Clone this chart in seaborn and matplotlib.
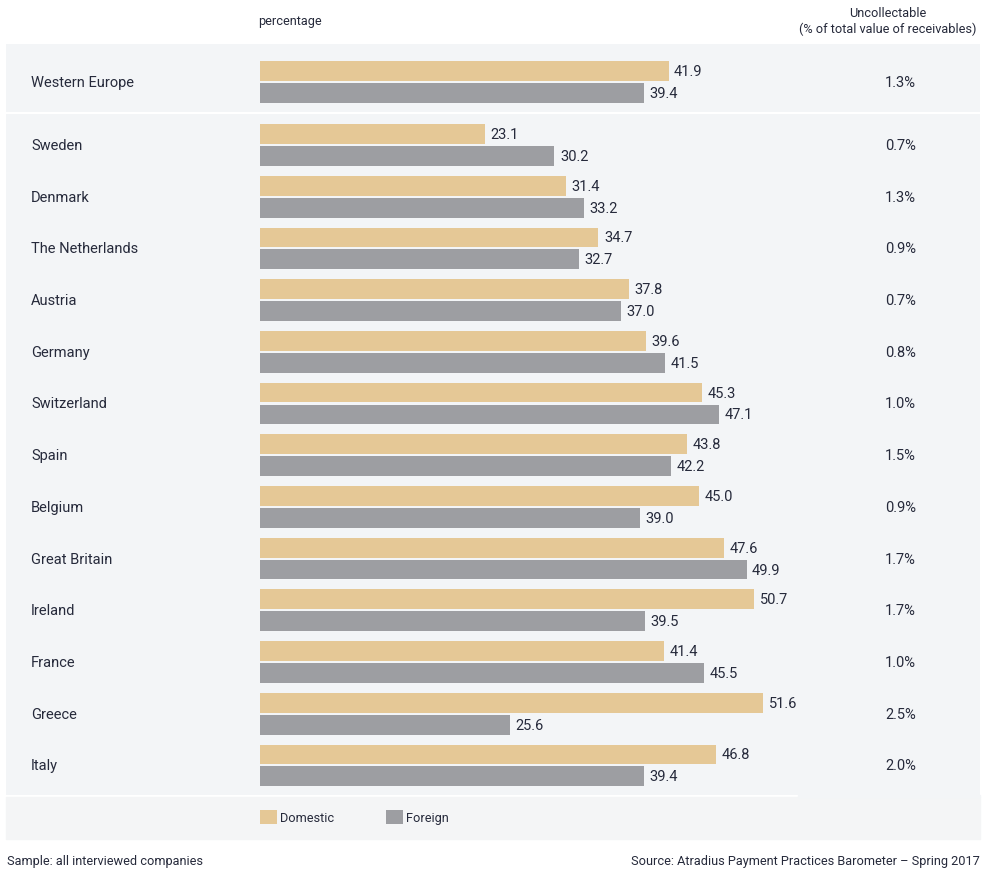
import matplotlib
matplotlib.use("Agg")
import matplotlib.pyplot as plt
import seaborn as sns
import pandas as pd
from matplotlib.patches import Rectangle

# ---------------- data ----------------
region = ["Western Europe"]
region_domestic = [41.9]
region_foreign = [39.4]
region_uncollectable = ["1.3%"]

countries = ["Sweden", "Denmark", "The Netherlands", "Austria", "Germany",
             "Switzerland", "Spain", "Belgium", "Great Britain", "Ireland",
             "France", "Greece", "Italy"]
domestic = [23.1, 31.4, 34.7, 37.8, 39.6, 45.3, 43.8, 45.0, 47.6, 50.7, 41.4, 51.6, 46.8]
foreign = [30.2, 33.2, 32.7, 37.0, 41.5, 47.1, 42.2, 39.0, 49.9, 39.5, 45.5, 25.6, 39.4]
uncollectable = ["0.7%", "1.3%", "0.9%", "0.7%", "0.8%", "1.0%", "1.5%",
                 "0.9%", "1.7%", "1.7%", "1.0%", "2.5%", "2.0%"]
series = ["Domestic", "Foreign"]

# ---------------- style ----------------
sns.set_style("white")
plt.rcParams["font.family"] = ["Roboto", "DejaVu Sans"]
TXT = "#262a3b"
PANEL = "#f3f5f7"
LEG_PANEL = "#f4f5f6"
palette = {"Domestic": "#e5c896", "Foreign": "#9d9ea2"}
FS = 10.5
FS_SMALL = 9.2

W, H = 989, 878
fig = plt.figure(figsize=(W / 100, H / 100), dpi=100)
fig.patch.set_facecolor("white")


def frac(x0, y0, x1, y1):
    return [x0 / W, 1 - y1 / H, (x1 - x0) / W, (y1 - y0) / H]


def long_df(names, d, f):
    return pd.DataFrame({
        "name": list(names) * 2,
        "value": list(d) + list(f),
        "type": [series[0]] * len(names) + [series[1]] * len(names),
    })


dfA = long_df(region, region_domestic, region_foreign)
dfB = long_df(countries, domestic, foreign)

PPU = 9.75  # pixels per unit
X0 = 260
xlim = (-(X0 - 6) / PPU, (980 - X0) / PPU)

axA = fig.add_axes(frac(6, 45, 980, 113))
axB = fig.add_axes(frac(6, 115, 980, 796))

PITCH = 51.7
for ax, df, names, unc, (top, bottom, c0) in [
    (axA, dfA, region, region_uncollectable, (45, 113, 83)),
    (axB, dfB, countries, uncollectable, (115, 796, 146)),
]:
    sns.barplot(data=df, x="value", y="name", hue="type", hue_order=series,
                palette=palette, orient="h", width=0.85, gap=0.1,
                errorbar=None, ax=ax, legend=(ax is axB), saturation=1,
                linewidth=0)
    ax.set_facecolor(PANEL)
    ax.set_xlim(*xlim)
    ax.set_ylim((bottom - c0) / PITCH, -(c0 - top) / PITCH)
    for s in ax.spines.values():
        s.set_visible(False)
    ax.set_xticks([])
    ax.set_yticks([])
    ax.set_xlabel("")
    ax.set_ylabel("")
    for cont in ax.containers:
        ax.bar_label(cont, fmt="%.1f", padding=4, fontsize=FS, color=TXT)
    tr = ax.get_yaxis_transform()
    for i, (n, u) in enumerate(zip(names, unc)):
        ax.text((31 - 6) / 974, i, n, transform=tr, ha="left", va="center",
                fontsize=FS, color=TXT)
        ax.text((916 - 6) / 974, i, u, transform=tr, ha="right", va="center",
                fontsize=FS, color=TXT)

# legend panel
fig.patches.append(Rectangle((6 / W, 1 - 840 / H), 974 / W, 42 / H,
                             transform=fig.transFigure, color=LEG_PANEL, zorder=0))
fig.patches.append(Rectangle((798 / W, 1 - 798 / H), 182 / W, 2 / H,
                             transform=fig.transFigure, color=PANEL, zorder=0))

handles, labels = axB.get_legend_handles_labels()
if axB.legend_ is not None:
    axB.legend_.remove()
fig.legend(handles, labels, loc="center left",
           bbox_to_anchor=(260 / W, 1 - 818 / H), ncol=2, frameon=False,
           fontsize=FS_SMALL, handlelength=1.35, handleheight=1.35,
           handletextpad=0.25, columnspacing=4.0, borderpad=0,
           borderaxespad=0, labelcolor=TXT)

# headers
fig.text(258 / W, 1 - 21 / H, "percentage", ha="left", va="center",
         fontsize=FS_SMALL, color=TXT)
fig.text(888 / W, 1 - 22 / H, "Uncollectable\n(% of total value of receivables)",
         ha="center", va="center", multialignment="center", fontsize=FS_SMALL,
         color=TXT, linespacing=1.25)

# footers
fig.text(7 / W, 1 - 862 / H, "Sample: all interviewed companies", ha="left",
         va="center", fontsize=FS_SMALL, color=TXT)
fig.text(980 / W, 1 - 862 / H, "Source: Atradius Payment Practices Barometer \u2013 Spring 2017",
         ha="right", va="center", fontsize=FS_SMALL, color=TXT)

fig.savefig("out.png", dpi=100, facecolor="white")
